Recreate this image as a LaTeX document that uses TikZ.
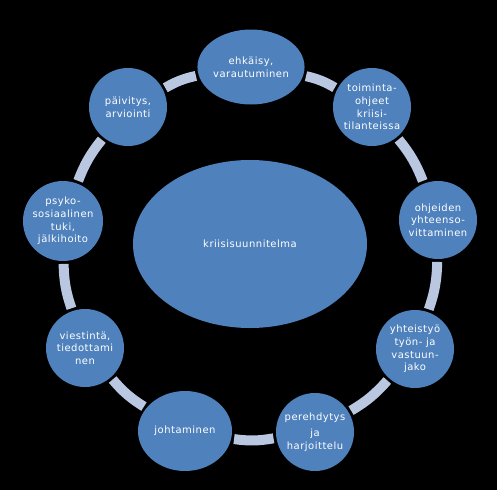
\documentclass[tikz,border=0pt]{standalone}
\usepackage{fontspec}
\setmainfont{DejaVu Sans}[LetterSpace=5]
\usetikzlibrary{shapes.geometric}
\definecolor{nodeblue}{RGB}{79,129,189}
\definecolor{ringblue}{RGB}{185,199,225}
\begin{document}
\begin{tikzpicture}[x=0.75pt,y=-0.75pt,
  bubble/.style={circle,fill=nodeblue,text=white,minimum size=58.5pt,inner sep=0pt,align=center,font=\fontsize{7.5}{9.5}\selectfont},
  ebubble/.style={ellipse,fill=nodeblue,text=white,inner sep=0pt,align=center,font=\fontsize{7.5}{9.5}\selectfont},
  ring/.style={draw=ringblue,line width=7.5pt,shorten >=2pt,shorten <=2pt,bend left=9}]
\fill[black] (0,0) rectangle (497,490);
\useasboundingbox (0,0) rectangle (497,490);
\node[ebubble,minimum width=78.75pt,minimum height=56.25pt] (ehk) at (251,67) {ehkäisy,\\varautuminen};
\node[bubble] (toim) at (372,107) {toiminta-\\ohjeet\\kriisi-\\tilanteissa};
\node[bubble] (ohj) at (438,220) {ohjeiden\\yhteenso-\\vittaminen};
\node[bubble] (yht) at (415,349) {yhteistyö\\työn- ja\\vastuun-\\jako};
\node[bubble] (pere) at (315,432) {perehdytys\\[3pt]ja\\harjoittelu};
\node[ebubble,minimum width=70.5pt,minimum height=60pt] (joht) at (185,431) {johtaminen};
\node[bubble] (vies) at (85,348) {viestintä,\\tiedottami\\nen};
\node[bubble,minimum size=60pt] (psy) at (63,221) {psyko-\\sosiaalinen\\tuki,\\jälkihoito};
\node[bubble] (paiv) at (128,107) {päivitys,\\arviointi};
\node[ebubble,minimum width=175.5pt,minimum height=126pt] (krii) at (250,244) {kriisisuunnitelma};
\path (ehk) edge[ring] (toim)
      (toim) edge[ring] (ohj)
      (ohj) edge[ring] (yht)
      (yht) edge[ring] (pere)
      (pere) edge[ring] (joht)
      (joht) edge[ring] (vies)
      (vies) edge[ring] (psy)
      (psy) edge[ring] (paiv)
      (paiv) edge[ring] (ehk);
\end{tikzpicture}
\end{document}
